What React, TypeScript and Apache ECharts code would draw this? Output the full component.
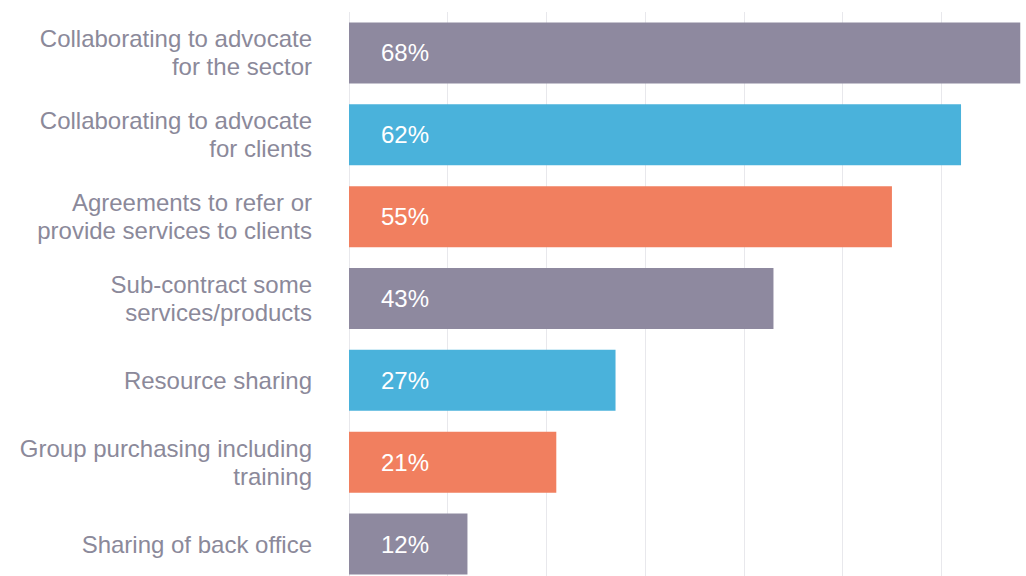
import React, { useEffect, useRef } from "react";
import * as echarts from "echarts";

const categories = [
  "Collaborating to advocate\nfor the sector",
  "Collaborating to advocate\nfor clients",
  "Agreements to refer or\nprovide services to clients",
  "Sub-contract some\nservices/products",
  "Resource sharing",
  "Group purchasing including\ntraining",
  "Sharing of back office",
];
const values = [68, 62, 55, 43, 27, 21, 12];
const barColors = ["#8e899f", "#4ab2db", "#f17f5f", "#8e899f", "#4ab2db", "#f17f5f", "#8e899f"];
const axisMax = 70;
const axisStep = 10;

export default function App() {
  const ref = useRef<HTMLDivElement>(null);
  useEffect(() => {
    if (!ref.current) return;
    const chart = echarts.init(ref.current, null, { renderer: "svg" });
    chart.setOption({
      animation: false,
      backgroundColor: "#ffffff",
      grid: { left: 349, top: 12, width: 691, height: 573, containLabel: false },
      xAxis: {
        type: "value",
        min: 0,
        max: axisMax,
        interval: axisStep,
        axisLabel: { show: false },
        axisLine: { show: false },
        axisTick: { show: false },
        splitLine: { show: true, lineStyle: { color: "#e8e8ec", width: 1 } },
      },
      yAxis: {
        type: "category",
        data: categories,
        inverse: true,
        axisLine: { show: false },
        axisTick: { show: false },
        axisLabel: {
          margin: 37,
          color: "#8b899a",
          fontFamily: "Liberation Sans, Arial, sans-serif",
          fontSize: 24,
          lineHeight: 28,
          align: "right",
        },
      },
      series: [
        {
          type: "bar",
          barWidth: 61,
          data: values.map((v, i) => ({ value: v, itemStyle: { color: barColors[i] } })),
          label: {
            show: true,
            position: "insideLeft",
            distance: 32,
            formatter: "{c}%",
            color: "#ffffff",
            fontFamily: "Liberation Sans, Arial, sans-serif",
            fontSize: 24,
          },
        },
      ],
    });
    return () => chart.dispose();
  }, []);
  return (
    <div
      ref={ref}
      style={{ position: "fixed", left: 0, top: 0, width: 1040, height: 590, background: "#fff" }}
    />
  );
}
